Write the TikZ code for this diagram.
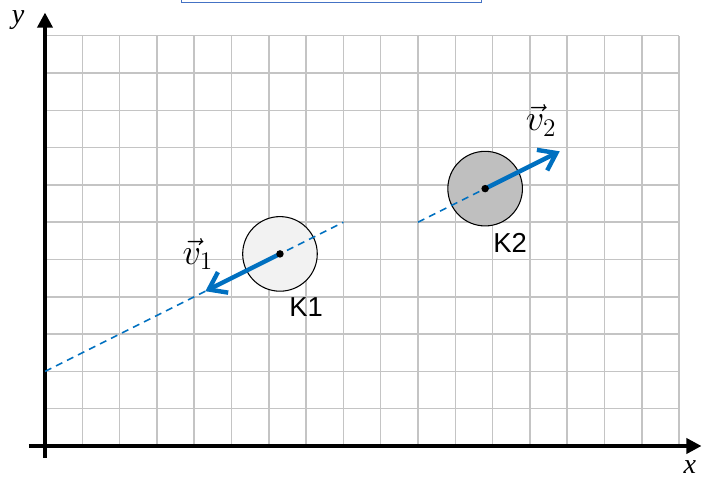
\documentclass[tikz,border=0pt]{standalone}
\usepackage{fontspec}
\setmainfont{Liberation Serif}
\newfontfamily\arialfont{Liberation Sans}
\usetikzlibrary{arrows.meta}
\definecolor{gridgray}{HTML}{C4C4C4}
\definecolor{vecblue}{HTML}{0070C0}
\definecolor{boxblue}{HTML}{4472C4}
\definecolor{kone}{HTML}{F2F2F2}
\definecolor{ktwo}{HTML}{BFBFBF}
\begin{document}
\begin{tikzpicture}[x=0.746cm,y=0.746cm,
  gridline/.style={gridgray,line width=0.85pt},
  axisline/.style={black,line width=2pt,-{Triangle[length=0.3cm,width=0.3cm]}},
  traj/.style={vecblue,line width=0.9pt,dash pattern=on 4pt off 3pt},
  velo/.style={vecblue,line width=2.5pt,-{Straight Barb[length=0.32cm,width=0.46cm,line width=2.5pt]}},
  ball/.style={circle,draw=black,line width=0.6pt,minimum size=1.492cm,inner sep=0pt},
  klabel/.style={font=\arialfont\fontsize{15.6}{18}\selectfont},
  vlabel/.style={font=\fontsize{21}{24}\selectfont},
  axlabel/.style={font=\itshape\fontsize{16}{18}\selectfont}]
\useasboundingbox (-1.206,-0.831) rectangle (17.775,11.957);
% top box
\draw[boxblue,line width=0.6pt,fill=white] (3.66,11.89) rectangle (11.69,12.3);
% grid
\foreach \i in {0,...,17} \draw[gridline] (\i,0) -- (\i,11);
\foreach \j in {1,...,11} \draw[gridline] (0,\j) -- (17,\j);
% axes
\coordinate (xs) at (-0.43,0);
\coordinate (xe) at (17.6,0);
\coordinate (ys) at (0,-0.32);
\coordinate (ye) at (0,11.62);
\draw[axisline] (xs) -- (xe);
\draw[axisline] (ys) -- (ye);
\node[axlabel] (xl) at (17.29,-0.56) {x};
\node[axlabel] (yl) at (-0.72,11.42) {y};
% trajectories
\coordinate (c1) at (6.3,5.15);
\coordinate (c2) at (11.8,6.9);
\coordinate (t1s) at (0,2);
\coordinate (t1e) at (8,6);
\coordinate (t2s) at (10,6);
\node[ball,fill=kone] (K1) at (c1) {};
\node[ball,fill=ktwo] (K2) at (c2) {};
\draw[traj] (t1s) -- (t1e);
\draw[traj] (t2s) -- (c2);
% velocities
\coordinate (v1e) at (4.3,4.15);
\coordinate (v2e) at (13.8,7.9);
\draw[velo] (c1) -- (v1e);
\draw[velo] (c2) -- (v2e);
\fill (c1) circle (0.1);
\fill (c2) circle (0.1);
% labels
\node[klabel] (K1l) at (7.0,3.72) {K1};
\node[klabel] (K2l) at (12.47,5.45) {K2};
\node[vlabel] (v1l) at (4.1,5.15) {$\vec{v}_1$};
\node[vlabel] (v2l) at (13.3,8.72) {$\vec{v}_2$};
\end{tikzpicture}
\end{document}
